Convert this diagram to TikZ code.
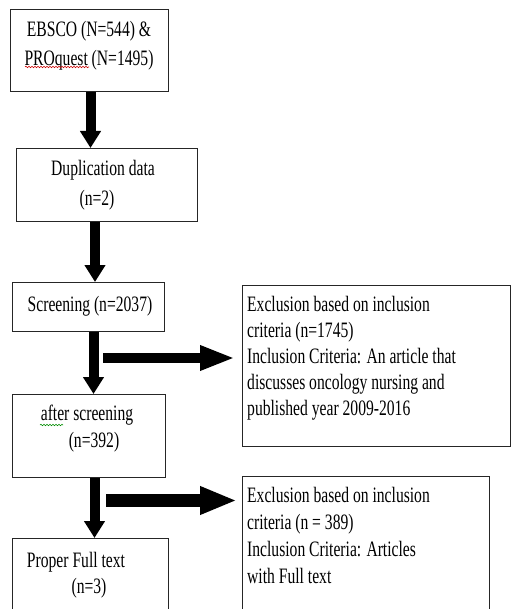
\documentclass[tikz,border=0pt]{standalone}
\usepackage{fontspec}
\setmainfont{Liberation Serif}[FakeStretch=0.71]
\usetikzlibrary{arrows.meta,decorations.pathmorphing}
\begin{document}
\begin{tikzpicture}[x=1pt,y=-1pt,
  box/.style={draw=black!85,line width=1.1pt,anchor=north west,inner sep=0pt},
  ltxt/.style={inner sep=0pt,font=\fontsize{22}{29}\selectfont,align=center},
  rtxt/.style={inner sep=0pt,font=\fontsize{22}{26}\selectfont,align=left,anchor=west},
  varrow/.style={line width=10pt,-{Triangle[length=17pt,width=20pt]}},
  harrowA/.style={line width=10pt,-{Triangle[length=35pt,width=23pt]},shorten >=7pt},
  harrowB/.style={line width=13pt,-{Triangle[length=37pt,width=26pt]},shorten >=5pt},
  spell/.style={decorate,decoration={snake,amplitude=0.7pt,segment length=3pt},line width=0.6pt}
]
\clip (0,0) rectangle (511,609);
\fill[white] (0,0) rectangle (511,609);

% boxes
\node[box,minimum width=158pt,minimum height=82pt] (b1) at (10,9) {};
\node[box,minimum width=181pt,minimum height=73pt] (b2) at (16,148) {};
\node[box,minimum width=152pt,minimum height=49pt] (b3) at (12,282) {};
\node[box,minimum width=153pt,minimum height=83pt] (b4) at (12,394) {};
\node[box,minimum width=156pt,minimum height=90pt] (b5) at (12,538) {};
\node[box,minimum width=268pt,minimum height=161pt] (e1) at (242,285) {};
\node[box,minimum width=247pt,minimum height=150pt] (e2) at (242,476) {};

% texts
\node[ltxt] (t1) at (89,45.5) {EBSCO (N=544) \&\\PROquest (N=1495)};
\node[ltxt] (t2a) at (103,170) {Duplication data};
\node[ltxt] (t2b) at (97,200) {(n=2)};
\node[ltxt] (t3) at (90,306) {Screening (n=2037)};
\node[ltxt] (t4a) at (87,415) {after screening};
\node[ltxt] (t4b) at (94,442) {(n=392)};
\node[ltxt] (t5a) at (76,562) {Proper Full text};
\node[ltxt] (t5b) at (89,588) {(n=3)};
\node[rtxt] (x1) at (247,358.5) {Exclusion based on inclusion\\criteria (n=1745)\\Inclusion Criteria: An article that\\discusses oncology nursing and\\published year 2009-2016};
\node[rtxt,font=\fontsize{22}{27}\selectfont] (x2) at (247,535) {Exclusion based on inclusion\\criteria (n = 389)\\Inclusion Criteria: Articles\\with Full text};

% spell-check underlines
\draw[spell,red!80!black] (25,67) -- (89,67);
\draw[spell,green!55!black] (40,425) -- (63,425);

% vertical arrows
\draw[varrow] (b1.south -| 90.5,0) -- (b2.north -| 90.5,0);
\draw[varrow] (b2.south -| 95,0) -- (b3.north -| 95,0);
\draw[varrow] (b3.south -| 93.5,0) -- (b4.north -| 93.5,0);
\draw[varrow] (b4.south -| 94.5,0) -- (b5.north -| 94.5,0);

% horizontal arrows
\coordinate (h1) at (103,358);
\coordinate (h2) at (106,500.5);
\draw[harrowA] (h1) -- (h1 -| e1.west);
\draw[harrowB] (h2) -- (h2 -| e2.west);
\end{tikzpicture}
\end{document}
